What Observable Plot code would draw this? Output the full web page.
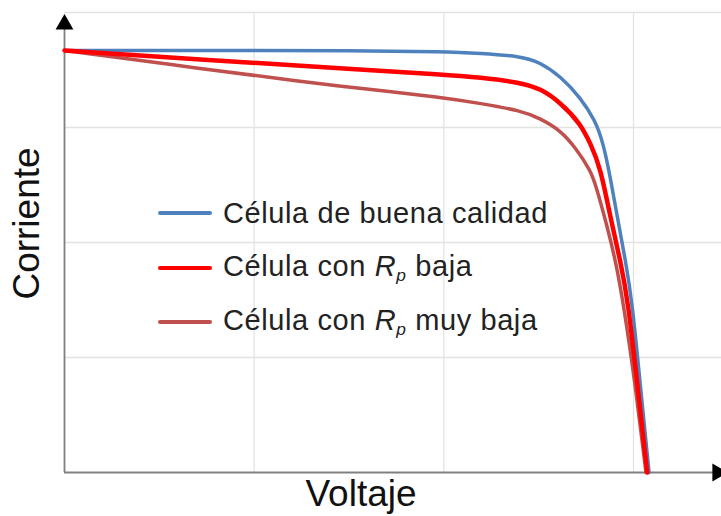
<!DOCTYPE html>
<html><head><meta charset="utf-8">
<script src="https://cdn.jsdelivr.net/npm/d3@7"></script>
<script src="https://cdn.jsdelivr.net/npm/@observablehq/plot@0.6"></script>
<style>
body{margin:0;background:#fff;font-family:"Liberation Sans",Arial,sans-serif;overflow:hidden;}
#wrap{position:relative;width:721px;height:516px;}
#legend{position:absolute;left:158px;top:186px;color:#222;font-size:29px;letter-spacing:0.6px;}
.row{display:flex;align-items:center;height:54.5px;white-space:nowrap;}
.sw{width:54px;height:4px;margin-right:11px;border-radius:2px;}
</style></head><body><div id="wrap"></div>
<script>
// Series names and colours
const seriesNames = ["Célula de buena calidad", "Célula con Rp baja", "Célula con Rp muy baja"];
const seriesColors = ["#4f81bd", "#ff0000", "#c0504d"];

// Voltage (x) and current (y), grid units
const goodX = [0, 0.717, 1.560, 1.998, 2.193, 2.404, 2.509, 2.615, 2.720, 2.799, 2.841, 2.878, 2.915, 2.958, 2.994, 3.036, 3.082];
const goodY = [3.670, 3.670, 3.667, 3.661, 3.646, 3.620, 3.565, 3.445, 3.261, 3.061, 2.860, 2.565, 2.217, 1.843, 1.470, 0.757, 0];

const lowX = [0, 0.717, 1.560, 1.998, 2.193, 2.404, 2.509, 2.615, 2.720, 2.773, 2.826, 2.878, 2.931, 2.973, 3.021, 3.072];
const lowY = [3.670, 3.591, 3.504, 3.461, 3.435, 3.391, 3.339, 3.217, 3.035, 2.861, 2.652, 2.217, 1.843, 1.470, 0.757, 0];

const veryLowX = [0, 0.717, 1.244, 1.560, 1.998, 2.193, 2.404, 2.509, 2.615, 2.694, 2.773, 2.799, 2.863, 2.905, 2.947, 3.010, 3.066];
const veryLowY = [3.670, 3.513, 3.400, 3.339, 3.261, 3.209, 3.148, 3.078, 2.974, 2.826, 2.626, 2.513, 2.130, 1.843, 1.470, 0.757, 0];

// Grid positions
const xGrid = [1, 2, 3];
const yGrid = [1, 2, 3, 4];
const xMax = 3.464, yMax = 4;
const xArrowAt = 3.443, yArrowAt = 3.897;

const toPts = (xs, ys, s) => xs.map((x, i) => ({x, y: ys[i], s}));
const good = toPts(goodX, goodY, seriesNames[0]);
const low = toPts(lowX, lowY, seriesNames[1]);
const veryLow = toPts(veryLowX, veryLowY, seriesNames[2]);

const chart = Plot.plot({
  width: 721, height: 516,
  marginLeft: 64, marginRight: 0, marginTop: 12, marginBottom: 44,
  x: {domain: [0, xMax], axis: null},
  y: {domain: [0, yMax], axis: null},
  style: {fontFamily: '"Liberation Sans", Arial, sans-serif', background: "white", overflow: "visible"},
  marks: [
    Plot.ruleY(yGrid, {stroke: "#e2e2e2", strokeWidth: 1.5}),
    Plot.ruleX(xGrid, {stroke: "#e2e2e2", strokeWidth: 1.2}),
    Plot.ruleX([0], {y1: 0, y2: yArrowAt, stroke: "#808080", strokeWidth: 1.8}),
    Plot.ruleY([0], {x1: 0, x2: xArrowAt, stroke: "#808080", strokeWidth: 1.8}),
    Plot.dot([{x: 0, y: yArrowAt}], {x: "x", y: "y", symbol: "triangle2", r: 8.5, fill: "black", stroke: null}),
    Plot.dot([{x: xArrowAt, y: 0}], {x: "x", y: "y", symbol: "triangle2", r: 8.5, fill: "black", stroke: null, rotate: 90}),
    Plot.line(good, {x: "x", y: "y", stroke: seriesColors[0], strokeWidth: 3.5, curve: "basis"}),
    Plot.line(veryLow, {x: "x", y: "y", stroke: seriesColors[2], strokeWidth: 3.5, curve: "basis"}),
    Plot.line(low, {x: "x", y: "y", stroke: seriesColors[1], strokeWidth: 4.5, curve: "basis"}),
    Plot.text(["Corriente"], {frameAnchor: "left", dx: -37, dy: -19, rotate: -90, fontSize: 37, fill: "#111", lineAnchor: "middle", textAnchor: "middle"}),
    Plot.text(["Voltaje"], {frameAnchor: "bottom", dx: -32, dy: 22, fontSize: 37, fill: "#111", lineAnchor: "middle", textAnchor: "middle"})
  ]
});
const wrap = document.getElementById("wrap");
wrap.appendChild(chart);

const legend = document.createElement("div");
legend.id = "legend";
seriesNames.forEach((name, i) => {
  const row = document.createElement("div");
  row.className = "row";
  const sw = document.createElement("div");
  sw.className = "sw";
  sw.style.background = seriesColors[i];
  row.appendChild(sw);
  const t = document.createElement("span");
  if (name.includes("Rp")) {
    const [a, b] = name.split("Rp");
    t.innerHTML = a + '<i>R</i><sub style="font-size:0.6em;font-style:italic;vertical-align:-0.3em">p</sub>' + b;
  } else t.textContent = name;
  row.appendChild(t);
  legend.appendChild(row);
});
wrap.appendChild(legend);
</script></body></html>
